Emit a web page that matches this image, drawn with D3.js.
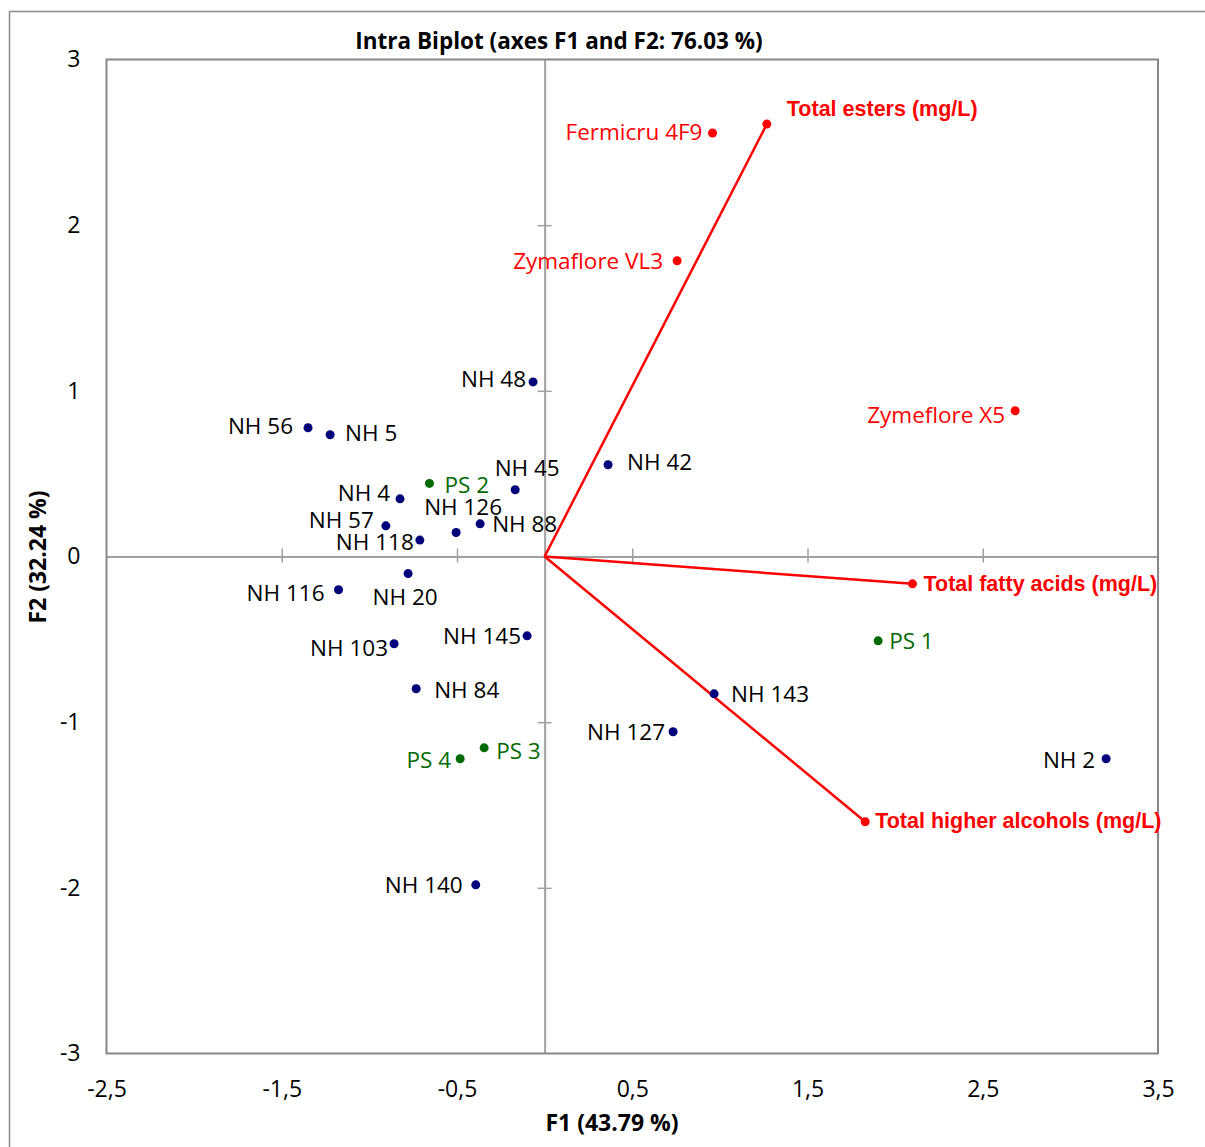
<!DOCTYPE html>
<html>
<head>
<meta charset="utf-8">
<script src="https://cdn.jsdelivr.net/npm/d3@7"></script>
<style>
  html, body { margin: 0; padding: 0; background: #fff; }
  svg { display: block; }
</style>
</head>
<body>
<svg id="chart" width="1205" height="1147"></svg>
<script>
// Active observations (isolates): F1 / F2 coordinates
const activeNames = ["NH 2","NH 4","NH 5","NH 20","NH 42","NH 45","NH 48","NH 56","NH 57","NH 84",
                     "NH 88","NH 103","NH 116","NH 118","NH 126","NH 127","NH 140","NH 143","NH 145"];
const activeF1 = [3.204,-0.825,-1.224,-0.779,0.362,-0.168,-0.066,-1.350,-0.906,-0.733,
                  -0.368,-0.859,-1.176,-0.712,-0.505,0.733,-0.393,0.967,-0.100];
const activeF2 = [-1.221,0.348,0.735,-0.103,0.554,0.403,1.054,0.777,0.185,-0.798,
                  0.197,-0.527,-0.201,0.099,0.145,-1.058,-1.982,-0.829,-0.479];

// Supplementary observations
const suppNames = ["PS 1","PS 2","PS 3","PS 4"];
const suppF1 = [1.903,-0.657,-0.345,-0.482];
const suppF2 = [-0.509,0.441,-1.155,-1.221];

// Commercial reference strains
const refNames = ["Fermicru 4F9","Zymaflore VL3","Zymeflore X5"];
const refF1 = [0.958,0.756,2.685];
const refF2 = [2.556,1.785,0.880];

// Variables (loadings drawn as vectors)
const varNames = ["Total esters (mg/L)","Total fatty acids (mg/L)","Total higher alcohols (mg/L)"];
const varF1 = [1.268,2.099,1.829];
const varF2 = [2.610,-0.165,-1.601];

// Axis ticks
const xTicks = [-2.5,-1.5,-0.5,0.5,1.5,2.5,3.5];
const yTicks = [-3,-2,-1,0,1,2,3];
const xInnerTicks = [-1.5,-0.5,0.5,1.5,2.5];
const yInnerTicks = [-2,-1,1,2];

// Label placement: side of the marker plus a small pixel nudge [dx, dy]
const labelLayout = {
  "NH 2":["left",-11,1], "NH 4":["left",-10,-6], "NH 5":["right",15,-2], "NH 20":["mid",-3,24],
  "NH 42":["right",19,-3], "NH 45":["mid",12,-22], "NH 48":["left",-7,-3], "NH 56":["left",-15,-2],
  "NH 57":["left",-12,-6], "NH 84":["right",18,1], "NH 88":["right",12,0], "NH 103":["left",-6,4],
  "NH 116":["left",-14,3], "NH 118":["left",-6,2], "NH 126":["mid",7,-25], "NH 127":["left",-8,0],
  "NH 140":["left",-13,0], "NH 143":["right",17,0], "NH 145":["left",-6,0],
  "PS 1":["right",11,0], "PS 2":["right",15,2], "PS 3":["right",12,3], "PS 4":["left",-9,1],
  "Fermicru 4F9":["left",-10,-1], "Zymaflore VL3":["left",-14,0], "Zymeflore X5":["left",-10,4],
  "Total esters (mg/L)":["right",20,-16], "Total fatty acids (mg/L)":["right",11,0],
  "Total higher alcohols (mg/L)":["right",10,-1]
};

const svg = d3.select("#chart");
const W = 1205, H = 1147;
const plot = { left: 106.5, right: 1158, top: 59.5, bottom: 1053.5 };

const x = d3.scaleLinear().domain([-2.5, 3.5]).range([plot.left, plot.right]);
const y = d3.scaleLinear().domain([-3, 3]).range([plot.bottom, plot.top]);
const fmt = v => String(v).replace(".", ",");

const labelFont = "'Open Sans', 'Noto Sans', sans-serif";
const navy = "#00007a", green = "#006a00", red = "#ff0000";

// outer chart frame
svg.append("rect")
  .attr("x", 9.5).attr("y", 11.5).attr("width", W).attr("height", H)
  .attr("fill", "none").attr("stroke", "#8c8c8c").attr("stroke-width", 1.5);

// title
svg.append("text")
  .attr("x", 559).attr("y", 49)
  .attr("text-anchor", "middle")
  .style("font-family", labelFont).style("font-weight", "bold").style("font-size", "22.5px")
  .attr("fill", "#000")
  .text("Intra Biplot (axes F1 and F2: 76.03 %)");

// zero lines with cross ticks
const zeroColor = "#a0a0a0";
const xZeroAxis = d3.axisBottom(x).tickValues(xInnerTicks).tickSize(0).tickFormat("");
const gx0 = svg.append("g").attr("transform", `translate(0,${y(0)})`).call(xZeroAxis);
gx0.select(".domain").attr("stroke", zeroColor).attr("stroke-width", 2);
gx0.selectAll(".tick line").attr("y1", -8).attr("y2", 6).attr("stroke", zeroColor).attr("stroke-width", 1.5);

const yZeroAxis = d3.axisLeft(y).tickValues(yInnerTicks).tickSize(0).tickFormat("");
const gy0 = svg.append("g").attr("transform", `translate(${x(0)},0)`).call(yZeroAxis);
gy0.select(".domain").attr("stroke", zeroColor).attr("stroke-width", 2);
gy0.selectAll(".tick line").attr("x1", -7).attr("x2", 7).attr("stroke", zeroColor).attr("stroke-width", 1.5);

// plot border
svg.append("rect")
  .attr("x", plot.left).attr("y", plot.top)
  .attr("width", plot.right - plot.left).attr("height", plot.bottom - plot.top)
  .attr("fill", "none").attr("stroke", "#878787").attr("stroke-width", 2);

// outer axes: tick labels only
const xAxis = d3.axisBottom(x).tickValues(xTicks).tickSize(0).tickPadding(27).tickFormat(fmt);
const gx = svg.append("g").attr("transform", `translate(0,${plot.bottom})`).call(xAxis);
gx.select(".domain").remove();
gx.selectAll("text").style("font-family", labelFont).style("font-size", "23px").attr("fill", "#000");

const yAxis = d3.axisLeft(y).tickValues(yTicks).tickSize(0).tickPadding(26).tickFormat(fmt);
const gy = svg.append("g").attr("transform", `translate(${plot.left},0)`).call(yAxis);
gy.select(".domain").remove();
gy.selectAll("text").style("font-family", labelFont).style("font-size", "23px").attr("fill", "#000");

// axis titles
svg.append("text")
  .attr("x", 612).attr("y", 1131).attr("text-anchor", "middle")
  .style("font-family", labelFont).style("font-weight", "bold").style("font-size", "23px")
  .text("F1 (43.79 %)");
svg.append("text")
  .attr("transform", "translate(46,557) rotate(-90)").attr("text-anchor", "middle")
  .style("font-family", labelFont).style("font-weight", "bold").style("font-size", "23px")
  .text("F2 (32.24 %)");

// variable vectors
const vars = varNames.map((n, i) => ({ name: n, f1: varF1[i], f2: varF2[i] }));
svg.append("g").selectAll("line").data(vars).join("line")
  .attr("x1", x(0)).attr("y1", y(0))
  .attr("x2", d => x(d.f1)).attr("y2", d => y(d.f2))
  .attr("stroke", red).attr("stroke-width", 2.5);

// point groups
function drawGroup(names, f1, f2, color, textColor, fontCss) {
  const data = names.map((n, i) => ({ name: n, f1: f1[i], f2: f2[i] }));
  const g = svg.append("g");
  g.selectAll("circle").data(data).join("circle")
    .attr("cx", d => x(d.f1)).attr("cy", d => y(d.f2)).attr("r", 4.5)
    .attr("fill", color);
  g.selectAll("text").data(data).join("text")
    .attr("x", d => x(d.f1) + labelLayout[d.name][1])
    .attr("y", d => y(d.f2) + labelLayout[d.name][2])
    .attr("dy", "0.35em")
    .attr("text-anchor", d => ({ left: "end", right: "start", mid: "middle" })[labelLayout[d.name][0]])
    .attr("fill", textColor)
    .style("font-family", fontCss.family).style("font-size", fontCss.size).style("font-weight", fontCss.weight)
    .text(d => d.name);
}

const obsFont = { family: labelFont, size: "22.5px", weight: "normal" };
drawGroup(activeNames, activeF1, activeF2, navy, "#000", obsFont);
drawGroup(suppNames, suppF1, suppF2, green, green, obsFont);
drawGroup(refNames, refF1, refF2, red, red, obsFont);
drawGroup(varNames, varF1, varF2, red, red,
  { family: "'Liberation Sans', Arial, sans-serif", size: "21.5px", weight: "bold" });
</script>
</body>
</html>
